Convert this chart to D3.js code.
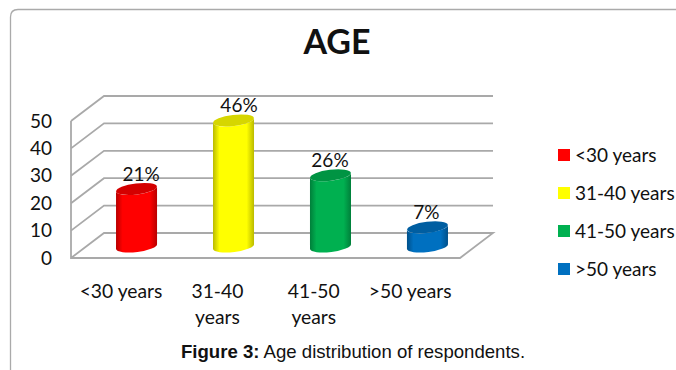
<!DOCTYPE html>
<html>
<head>
<meta charset="utf-8">
<script src="https://cdn.jsdelivr.net/npm/d3@7/dist/d3.min.js"></script>
<style>
html,body{margin:0;padding:0;background:#fff;overflow:hidden}
svg{display:block}
text{font-family:Lato,"Open Sans",sans-serif;fill:#111}
</style>
</head>
<body>
<svg id="chart" width="676" height="370"></svg>
<script>
const categories = ["<30 years", "31-40 years", "41-50 years", ">50 years"];
const axisLabels = [["<30 years"], ["31-40", "years"], ["41-50", "years"], [">50 years"]];
const percentages = [21, 46, 26, 7];
const yTicks = [0, 10, 20, 30, 40, 50];
const palette = [
  {side: "#ff0000", edge: "#b80000", top: "#d40000"},
  {side: "#ffff00", edge: "#baba00", top: "#d6d600"},
  {side: "#00b050", edge: "#007f3a", top: "#009443"},
  {side: "#0070c0", edge: "#00508a", top: "#005ea1"}
];

const svg = d3.select("#chart");
const W = 676, H = 370;

// 3D box: the floor recedes by this offset towards the back wall
const depth = {dx: 33, dy: -25};
const wallGray = "#a9a9a9";

const y = d3.scaleLinear().domain([0, 50]).range([258, 121]);
const x = d3.scaleBand().domain(categories).range([88, 476]).paddingInner(0.577).paddingOuter(0.289);
// Cylinders stand in the middle of the floor's depth
const yBar = y.copy().range([246.5, 109.5]);
const leftEdge = 71, rightFront = 460;

// Outer frame, open on the right and at the bottom
svg.append("path")
  .attr("d", `M10.5,${H} V17 Q10.5,9.5 18,9.5 H${W}`)
  .attr("fill", "none").attr("stroke", "#aaaaaa").attr("stroke-width", 1.3);

svg.append("text").attr("x", 337).attr("y", 54).attr("text-anchor", "middle")
  .attr("font-size", 34).attr("font-weight", 700).text("AGE");

// Wall gridlines: a diagonal on the side wall, then across the back wall
const wall = svg.append("g").attr("fill", "none").attr("stroke", wallGray).attr("stroke-width", 1.8);
wall.selectAll("path.grid").data(yTicks.slice(1)).join("path").attr("class", "grid")
  .attr("d", d => d3.line()([
    [leftEdge, y(d)],
    [leftEdge + depth.dx, y(d) + depth.dy],
    [rightFront + depth.dx, y(d) + depth.dy]
  ]));
// Floor outline and the vertical axis
wall.append("path").attr("d", d3.line()([
  [leftEdge, y(50)], [leftEdge, y(0)], [rightFront, y(0)],
  [rightFront + depth.dx, y(0) + depth.dy], [leftEdge + depth.dx, y(0) + depth.dy], [leftEdge, y(0)]
]));

// Value axis labels
const axis = svg.append("g").attr("transform", `translate(${leftEdge - 12},0)`)
  .call(d3.axisLeft(y).tickValues(yTicks).tickSize(0).tickPadding(7));
axis.select(".domain").remove();
axis.selectAll("text").attr("font-size", 19).style("font-family", "Lato,'Open Sans',sans-serif").attr("fill", "#111");

// Horizontal gradients give the cylinders their rounded shading
const defs = svg.append("defs");
palette.forEach((c, i) => {
  const g = defs.append("linearGradient").attr("id", "cyl" + i);
  [[0, c.edge], [0.16, c.side], [0.82, c.side], [1, c.edge]].forEach(([o, col]) =>
    g.append("stop").attr("offset", o).attr("stop-color", col));
});

// Cylinders with a slightly tilted elliptical cap and base
const ry = 5.5, lift = 2.6;
const bars = svg.append("g").selectAll("g").data(percentages).join("g");
bars.append("path")
  .attr("fill", (d, i) => `url(#cyl${i})`)
  .attr("d", (d, i) => {
    const x0 = x(categories[i]), bw = x.bandwidth(), rx = bw / 2;
    const top = yBar(d), base = yBar(0);
    return `M${x0},${top + lift} V${base + lift}` +
      `A${rx},${ry} -7 0 0 ${x0 + bw},${base - lift}` +
      `V${top - lift} A${rx},${ry} -7 0 1 ${x0},${top + lift}Z`;
  });
bars.append("ellipse")
  .attr("rx", x.bandwidth() / 2).attr("ry", ry)
  .attr("fill", (d, i) => palette[i].top)
  .attr("transform", (d, i) =>
    `translate(${x(categories[i]) + x.bandwidth() / 2},${yBar(d)}) rotate(-7)`);

// Percentage labels above each cylinder
const labelNudge = [4.5, 5.5, -0.5, -1];
svg.append("g").selectAll("text").data(percentages).join("text")
  .attr("x", (d, i) => x(categories[i]) + x.bandwidth() / 2 + labelNudge[i])
  .attr("y", d => yBar(d) - 8)
  .attr("text-anchor", "middle").attr("font-size", 19)
  .text(d => d + "%");

// Category labels sit left of their cylinders, wrapped onto two lines where needed
const catLabels = svg.append("g").selectAll("text").data(axisLabels).join("text")
  .attr("text-anchor", "middle").attr("font-size", 19.3)
  .attr("transform", (d, i) => `translate(${x(categories[i]) + x.bandwidth() / 2 - 15.5 - i * 0.6},298)`);
catLabels.selectAll("tspan").data(d => d).join("tspan")
  .attr("x", 0).attr("dy", (d, i) => i ? 26 : 0).text(d => d);

// Legend
const legendY = d3.scalePoint().domain(categories).range([155, 269]);
const legend = svg.append("g").selectAll("g").data(categories).join("g")
  .attr("transform", d => `translate(558,${legendY(d)})`);
legend.append("rect").attr("y", -6).attr("width", 12).attr("height", 12)
  .attr("fill", (d, i) => palette[i].side);
legend.append("text").attr("x", 17).attr("y", 6.5).attr("font-size", 19).text(d => d);

// Figure caption
const caption = svg.append("text").attr("x", 353).attr("y", 358).attr("text-anchor", "middle")
  .attr("font-size", 18.6).style("font-family", "'Liberation Sans',Arial,sans-serif");
caption.append("tspan").attr("font-weight", 700).text("Figure 3:");
caption.append("tspan").text(" Age distribution of respondents.");
</script>
</body>
</html>
